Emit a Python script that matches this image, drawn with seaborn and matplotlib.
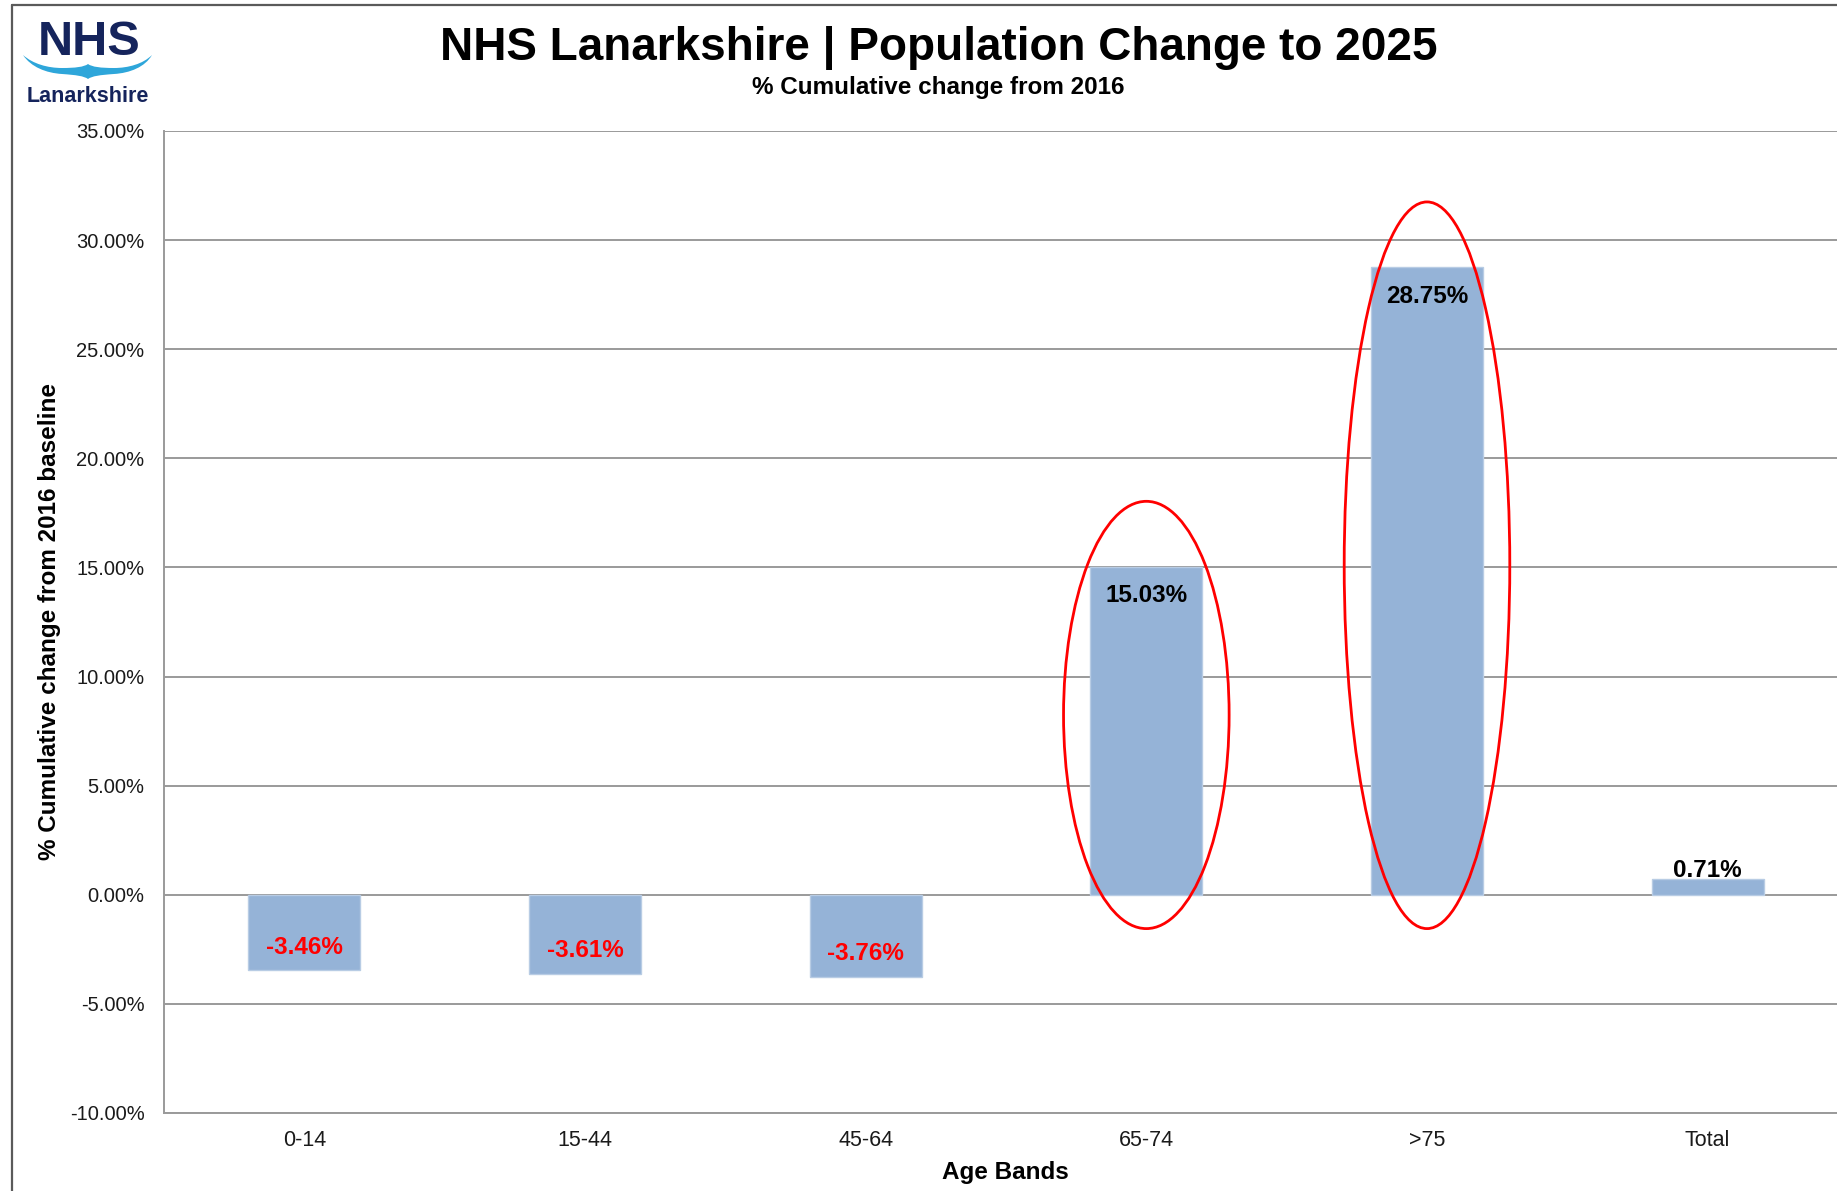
import numpy as np
import pandas as pd
import matplotlib
matplotlib.use("Agg")
import matplotlib.pyplot as plt
import matplotlib.ticker as mtick
from matplotlib.patches import Ellipse, PathPatch
from matplotlib.path import Path
from matplotlib.lines import Line2D
import seaborn as sns

# ---------------- data ----------------
categories = ["0-14", "15-44", "45-64", "65-74", ">75", "Total"]
values = [-3.46, -3.61, -3.76, 15.03, 28.75, 0.71]
y_ticks = [-10, -5, 0, 5, 10, 15, 20, 25, 30, 35]
highlighted = ["65-74", ">75"]

title = "NHS Lanarkshire | Population Change to 2025"
subtitle = "% Cumulative change from 2016"
y_label = "% Cumulative change from 2016 baseline"
x_label = "Age Bands"

# ---------------- style ----------------
sns.set_style("white")
plt.rcParams["font.family"] = ["Liberation Sans", "DejaVu Sans"]

W, H = 1837, 1191
fig = plt.figure(figsize=(W / 100, H / 100), dpi=100)
fig.patch.set_facecolor("white")


def fx(px):
    return px / W


def fy(py):
    return 1 - py / H


ax = fig.add_axes([fx(164), fy(1113), 1684 / W, (1113 - 131) / H])

df = pd.DataFrame({"band": categories, "change": values})
sns.barplot(data=df, x="band", y="change", color="#95B3D7", saturation=1,
            width=0.4, edgecolor="#B8CCE4", linewidth=1, errorbar=None,
            ax=ax, zorder=3)

ax.set_xlim(-0.5, 5.5)
ax.set_ylim(-10, 35)
ax.set_yticks(y_ticks)
ax.yaxis.set_major_formatter(mtick.FuncFormatter(lambda v, _: f"{v:.2f}%"))
ax.set_xlabel("")
ax.set_ylabel("")

grid_col = "#9A9A9A"
ax.yaxis.grid(True, color=grid_col, linewidth=1.4, zorder=0)
ax.xaxis.grid(False)
ax.set_axisbelow(True)
for s in ["top", "right"]:
    ax.spines[s].set_visible(False)
ax.spines["left"].set_color(grid_col)
ax.spines["left"].set_linewidth(1.4)
ax.spines["bottom"].set_color(grid_col)
ax.spines["bottom"].set_linewidth(1.4)

ax.tick_params(axis="y", length=0, labelsize=14.5, pad=14, labelcolor="#1a1a1a")
ax.tick_params(axis="x", length=0, labelsize=15.5, pad=12, labelcolor="#1a1a1a")

# value labels
for i, v in enumerate(values):
    if v < 0:
        off, col = 23, "#FF0000"
    elif v > 5:
        off, col = -29, "black"
    else:
        off, col = 9, "black"
    ax.annotate(f"{v:.2f}%", xy=(i, v), xytext=(0, off), textcoords="offset pixels",
                ha="center", va="center", fontsize=17.5, fontweight="bold", color=col,
                zorder=6)

# highlight ellipses
for c in highlighted:
    i = categories.index(c)
    v = values[i]
    bottom, top = -1.55, v + 3.0
    e = Ellipse((i, (top + bottom) / 2), width=0.59, height=top - bottom,
                fill=False, edgecolor="#FF0000", linewidth=2, zorder=5, clip_on=False)
    ax.add_patch(e)

# titles and labels
fig.text(fx(939), fy(60), title, ha="center", va="baseline", fontsize=33,
         fontweight="bold", color="black")
fig.text(fx(938), fy(94), subtitle, ha="center", va="baseline", fontsize=17.5,
         fontweight="bold", color="black")
fig.text(fx(50), fy(622), y_label, ha="center", va="center", rotation=90,
         fontsize=17.5, fontweight="bold", color="black")
fig.text(fx(1005), fy(1172), x_label, ha="center", va="center",
         fontsize=17.5, fontweight="bold", color="black")

# logo
navy = "#15245C"
fig.text(fx(89), fy(55), "NHS", ha="center", va="baseline", fontsize=35,
         fontweight="bold", color=navy)
fig.text(fx(88), fy(102), "Lanarkshire", ha="center", va="baseline", fontsize=15.5,
         fontweight="bold", color=navy)
pts = [(23, 55),
       (33, 64), (48, 68), (62, 68),
       (75, 68), (84, 67), (88, 64),
       (92, 67), (101, 68), (114, 68),
       (128, 68), (143, 64), (152, 55),
       (145, 67), (130, 73), (114, 74),
       (100, 75), (92, 76), (88, 79),
       (84, 76), (76, 75), (62, 74),
       (46, 73), (31, 67), (23, 55),
       (23, 55)]
codes = [Path.MOVETO] + [Path.CURVE4] * 24 + [Path.CLOSEPOLY]
wave = Path([(fx(x), fy(y)) for x, y in pts], codes)
fig.add_artist(PathPatch(wave, facecolor="#2EA6DA", edgecolor="none",
                         transform=fig.transFigure))

# outer frame (left and top)
fig.add_artist(Line2D([fx(12), fx(12)], [fy(5), 0], transform=fig.transFigure,
                      color="#5A5A5A", linewidth=1.6))
fig.add_artist(Line2D([fx(12), 1], [fy(5), fy(5)], transform=fig.transFigure,
                      color="#5A5A5A", linewidth=1.6))

fig.savefig("out.png", dpi=100, facecolor="white")
